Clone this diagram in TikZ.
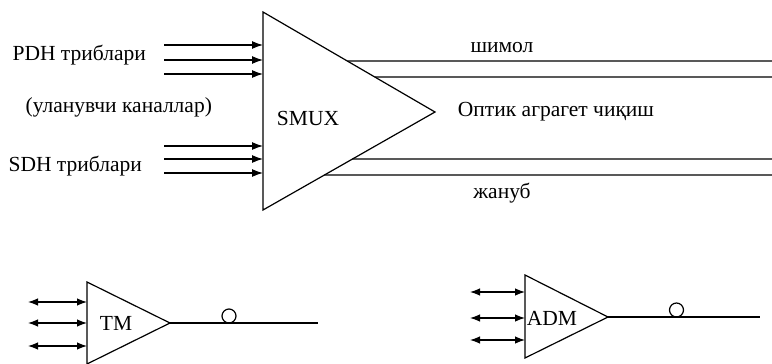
\documentclass[tikz,border=0pt]{standalone}
\usepackage{fontspec}
\setmainfont{Liberation Serif}
\usetikzlibrary{arrows.meta,calc}
\begin{document}
\begin{tikzpicture}[x=1pt,y=-1pt,
  line width=1.2pt,
  lbl/.style={font=\fontsize{21.5}{24}\selectfont, inner sep=0pt},
  inarrow/.style={-{Latex[length=11pt,width=8pt]}},
  bidir/.style={{Latex[length=10pt,width=7.5pt]}-{Latex[length=10pt,width=7.5pt]}},
  loop/.style={circle,draw,minimum size=14pt,inner sep=0pt},
]
\useasboundingbox (0,0) rectangle (772,364);
% ---- SMUX ----
\coordinate (sT) at (263,12);
\coordinate (sB) at (263,210);
\coordinate (sA) at (435,112);
\draw[line join=miter] (sT) -- (sA) -- (sB) -- cycle;
\node[lbl] (smux) at (308,118) {SMUX};
\foreach \y [count=\i] in {45,60,74} {
  \coordinate (p\i) at (164,\y);
  \draw[inarrow] (p\i) -- (p\i -| sT);
}
\foreach \y [count=\i] in {146,159,173} {
  \coordinate (q\i) at (164,\y);
  \draw[inarrow] (q\i) -- (q\i -| sT);
}
\coordinate (o1) at (772,61);
\coordinate (o2) at (772,77);
\coordinate (o3) at (772,159);
\coordinate (o4) at (772,175);
\draw ($(sT)!0.49!(sA)$) -- (o1);
\draw ($(sT)!0.65!(sA)$) -- (o2);
\draw ($(sB)!0.52!(sA)$) -- (o3);
\draw ($(sB)!0.357!(sA)$) -- (o4);
\node[lbl] (north) at (502,48) {шимол};
\node[lbl] (out) at (556,112) {Оптик аграгет чиқиш};
\node[lbl] (south) at (502,193) {жануб};
\node[lbl,anchor=west] (pdh) at (12,55) {PDH триблари};
\node[lbl,anchor=west] (ulan) at (25,107) {(уланувчи каналлар)};
\node[lbl,anchor=west] (sdh) at (8,166) {SDH триблари};
% ---- TM ----
\coordinate (tT) at (87,282);
\coordinate (tB) at (87,364);
\coordinate (tA) at (170,323);
\draw[line join=miter] (tT) -- (tA) -- (tB) -- cycle;
\node[lbl] (tm) at (116,323) {TM};
\foreach \y [count=\i] in {302,323,346} {
  \coordinate (tm\i) at (28,\y);
  \draw[bidir] (tm\i) -- (tm\i -| tT);
}
\coordinate (tE) at (318,323);
\draw (tA) -- (tE);
\node[loop] (tloop) at (229,316) {};
% ---- ADM ----
\coordinate (aT) at (525,275);
\coordinate (aB) at (525,358);
\coordinate (aA) at (608,317);
\draw[line join=miter] (aT) -- (aA) -- (aB) -- cycle;
\node[lbl] (adm) at (552,318) {ADM};
\foreach \y [count=\i] in {292,318,340} {
  \coordinate (ad\i) at (470,\y);
  \draw[bidir] (ad\i) -- (ad\i -| aT);
}
\coordinate (aE) at (760,317);
\draw (aA) -- (aE);
\node[loop] (aloop) at (676.5,310) {};
\end{tikzpicture}
\end{document}
